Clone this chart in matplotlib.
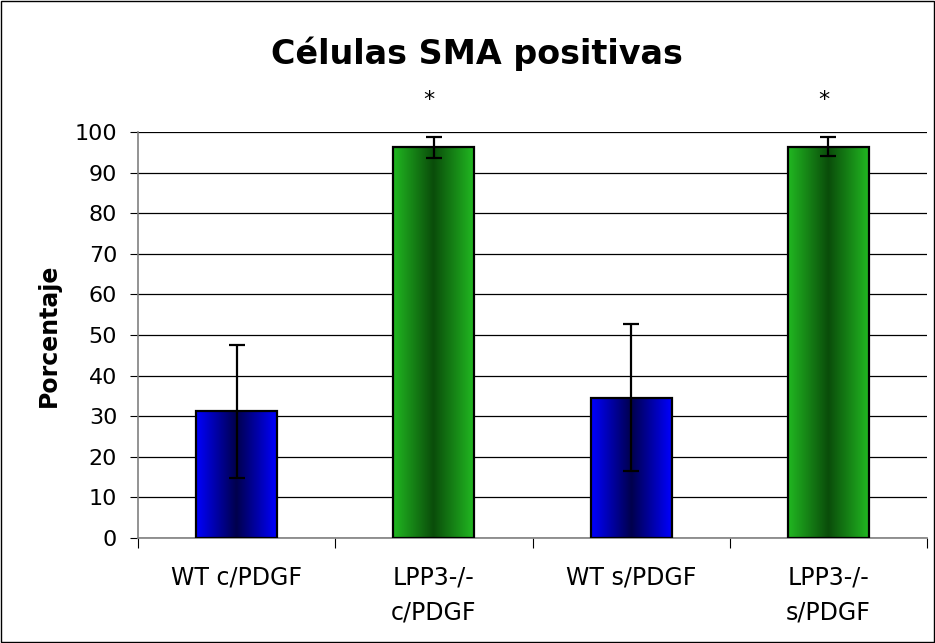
import numpy as np
import matplotlib
matplotlib.use("Agg")
import matplotlib.pyplot as plt
from matplotlib.patches import Rectangle
from matplotlib.colors import LinearSegmentedColormap

categories = ["WT c/PDGF", "LPP3-/-\nc/PDGF", "WT s/PDGF", "LPP3-/-\ns/PDGF"]
values = [31.2, 96.2, 34.6, 96.4]
errors = [16.3, 2.6, 18.2, 2.3]
significant = [False, True, False, True]
bar_kind = ["blue", "green", "blue", "green"]
yticks = list(range(0, 101, 10))

fig = plt.figure(figsize=(9.35, 6.43), dpi=100)
ax = fig.add_axes([138/935, 1-538/643, (927-138)/935, (538-132)/643])

cmaps = {
    "blue": LinearSegmentedColormap.from_list("b", [(0, 0, 1), (0, 0, 0.30), (0, 0, 1)]),
    "green": LinearSegmentedColormap.from_list("g", [(0.13, 0.72, 0.13), (0.04, 0.30, 0.04), (0.13, 0.72, 0.13)]),
}
x = np.arange(len(categories))
width = 0.41
grad = np.linspace(0, 1, 256).reshape(1, -1)
for xi, v, kind in zip(x, values, bar_kind):
    left = xi - width/2
    im = ax.imshow(grad, cmap=cmaps[kind], aspect="auto",
                   extent=[left, left + width, 0, v], zorder=2, interpolation="bilinear")
    rect = Rectangle((left, 0), width, v, facecolor="none", edgecolor="black", lw=1.6, zorder=3)
    ax.add_patch(rect)
    clip = Rectangle((left, 0), width, v, transform=ax.transData)
    im.set_clip_path(clip)

ax.errorbar(x, values, yerr=errors, fmt="none", ecolor="black", elinewidth=1.6,
            capsize=6, capthick=1.6, zorder=4)
for xi, v, e, s in zip(x, values, errors, significant):
    if s:
        ax.text(xi - 0.025, 108, "*", ha="center", va="center", fontsize=16,
                family="DejaVu Sans", clip_on=False)

ax.set_xlim(-0.5, len(categories) - 0.5)
ax.set_ylim(0, 100)
ax.set_yticks(yticks)
ax.set_yticklabels([str(t) for t in yticks], fontsize=16, family="DejaVu Sans")
ax.set_xticks(x)
ax.set_xticklabels(categories, fontsize=17, family="DejaVu Sans", linespacing=1.6)
ax.set_xticks(np.arange(-0.5, len(categories)), minor=True)
ax.tick_params(axis="x", which="major", length=0, pad=19.5)
ax.tick_params(axis="x", which="minor", length=7, color="black", width=0.8)
ax.tick_params(axis="y", length=6, color="black", width=0.8, pad=9)
for s in ["top", "right"]:
    ax.spines[s].set_visible(False)
for s in ["left", "bottom"]:
    ax.spines[s].set_color("#808080")
    ax.spines[s].set_linewidth(1.2)
ax.yaxis.grid(True, color="black", lw=0.9)
ax.set_axisbelow(True)

fig.text(49/935, 1-335/643, "Porcentaje", rotation=90, ha="center", va="center",
         fontsize=17, fontweight="bold", family="DejaVu Sans")
fig.text(477/935, 1-64/643, "Células SMA positivas", ha="center", va="baseline",
         fontsize=24, fontweight="bold", family="DejaVu Sans")
fig.patches.append(Rectangle((0.001, 0.001), 0.998, 0.997, transform=fig.transFigure,
                             fill=False, edgecolor="black", lw=1))
fig.savefig("out.png", dpi=100)
